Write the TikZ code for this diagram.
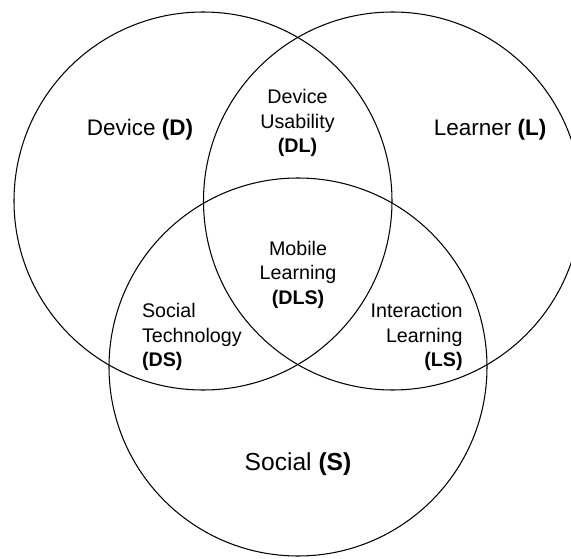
\documentclass[tikz,border=0pt]{standalone}
\usepackage{fontspec}
\setmainfont{Liberation Sans}
\usetikzlibrary{shapes,positioning}

\begin{document}
\begin{tikzpicture}[
    setcircle/.style={circle, draw, line width=0.6pt, minimum size=7.56cm, inner sep=0pt},
    setlabel/.style={font=\fontsize{12.8}{15}\selectfont, inner sep=0pt, anchor=base},
    zonelabel/.style={font=\fontsize{11.2}{13.9}\selectfont, inner sep=0pt},
    biglabel/.style={font=\fontsize{14}{17}\selectfont, inner sep=0pt, anchor=base}
]
    % Area del disegno
    \useasboundingbox (0,0) rectangle (11.42,11.16);
    \clip (0,0) rectangle (11.42,11.16);

    % Insiemi
    \node[setcircle] (device) at (4.06,7.14) {};
    \node[setcircle] (learner) at (7.85,7.14) {};
    \node[setcircle] (social) at (5.96,3.82) {};

    % Etichette degli insiemi
    \node[setlabel] (dlabel) at (2.80,8.44) {Device \textbf{(D)}};
    \node[setlabel] (llabel) at (9.80,8.44) {Learner \textbf{(L)}};
    \node[biglabel] (slabel) at (5.96,1.76) {Social \textbf{(S)}};

    % Intersezioni
    \node[zonelabel, align=center] (dl) at (5.95,8.70) {Device\\Usability\\\textbf{(DL)}};
    \node[zonelabel, align=center] (dls) at (5.96,5.67) {Mobile\\Learning\\\textbf{(DLS)}};
    \node[zonelabel, align=left, anchor=west] (ds) at (2.834,4.42) {Social\\Technology\\\textbf{(DS)}};
    \node[zonelabel, align=right, anchor=east] (ls) at (9.26,4.42) {Interaction\\Learning\\\textbf{(LS)}};
\end{tikzpicture}
\end{document}
